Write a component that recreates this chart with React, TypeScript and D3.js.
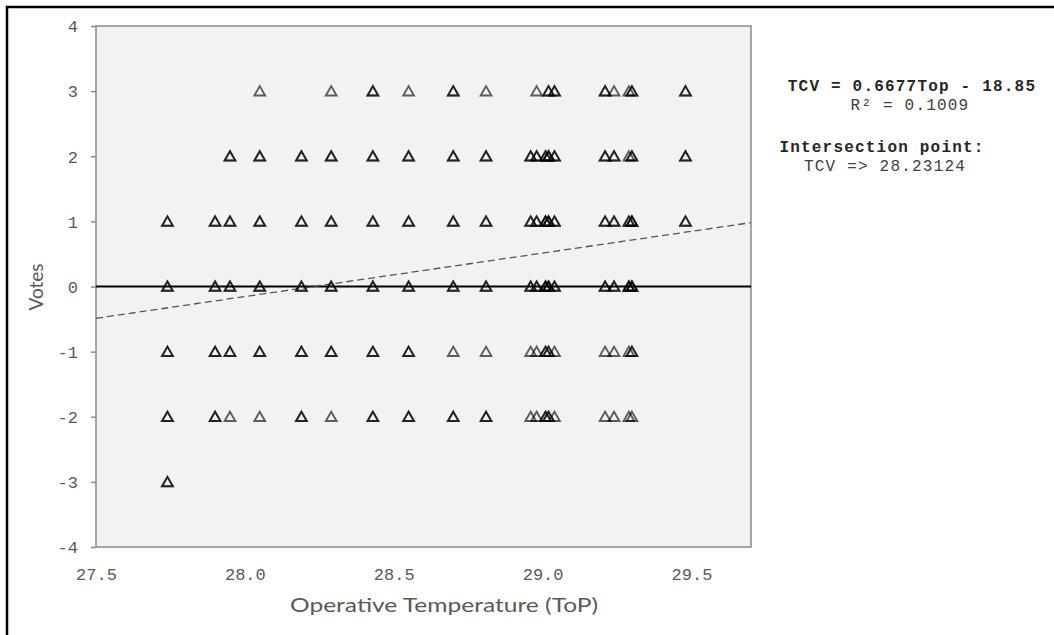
import React, { useEffect, useRef } from "react";
import * as d3 from "d3";

// Operative temperature values (x positions of the point columns)
const temps = [27.74, 27.9, 27.95, 28.05, 28.19, 28.29, 28.43, 28.55, 28.7, 28.81, 28.96, 28.98, 29.01, 29.02, 29.04, 29.21, 29.24, 29.29, 29.3, 29.48];

// number of votes observed at each temperature for each vote level
const countsVote3 = [0, 0, 0, 1, 0, 1, 2, 1, 2, 1, 0, 1, 0, 2, 2, 2, 1, 1, 2, 2];
const countsVote2 = [0, 0, 2, 2, 2, 2, 2, 2, 2, 2, 2, 2, 2, 3, 2, 2, 2, 1, 2, 2];
const countsVote1 = [2, 2, 2, 2, 2, 2, 2, 2, 2, 2, 2, 2, 3, 3, 2, 2, 2, 2, 3, 2];
const countsVote0 = [2, 2, 2, 2, 2, 2, 2, 2, 2, 2, 2, 2, 3, 3, 2, 2, 2, 3, 3, 0];
const countsVoteM1 = [2, 2, 2, 2, 2, 2, 2, 2, 1, 1, 1, 1, 2, 2, 1, 1, 1, 1, 2, 0];
const countsVoteM2 = [2, 2, 1, 1, 2, 1, 2, 2, 2, 2, 1, 1, 2, 2, 1, 1, 1, 1, 1, 0];
const countsVoteM3 = [2, 0, 0, 0, 0, 0, 0, 0, 0, 0, 0, 0, 0, 0, 0, 0, 0, 0, 0, 0];

const voteLevels = [3, 2, 1, 0, -1, -2, -3];
const voteCounts = [countsVote3, countsVote2, countsVote1, countsVote0, countsVoteM1, countsVoteM2, countsVoteM3];

const xDomain = [27.5, 29.7];
const yDomain = [-4, 4];
const xTicks = [27.5, 28.0, 28.5, 29.0, 29.5];
const yTicks = [-4, -3, -2, -1, 0, 1, 2, 3, 4];

// regression shown in the chart
const slope = 0.6677;
const intercept = -18.85;
const rSquared = "0.1009";
const intersection = "28.23124";

const W = 1054;
const H = 635;
const plot = { left: 96, right: 751, top: 26, bottom: 547 };

const x = d3.scaleLinear().domain(xDomain).range([plot.left, plot.right]);
const y = d3.scaleLinear().domain(yDomain).range([plot.bottom, plot.top]);

const MONO = "'Liberation Mono', 'DejaVu Sans Mono', monospace";
const SANS = "Lato, 'Open Sans', sans-serif";

type Obs = { t: number; v: number; k: number };
const observations: Obs[] = [];
voteLevels.forEach((v, li) => {
  voteCounts[li].forEach((c, ti) => {
    for (let k = 0; k < c; k++) observations.push({ t: temps[ti], v, k });
  });
});

const triangle = d3.symbol().type(d3.symbolTriangle).size(50)();

const trendLine = d3
  .line<number>()
  .x((t) => x(t))
  .y((t) => y(slope * t + intercept));

export default function App() {
  const gx = useRef<SVGGElement>(null);
  const gy = useRef<SVGGElement>(null);

  useEffect(() => {
    if (gx.current) {
      const ax = d3
        .axisBottom(x)
        .tickValues(xTicks)
        .tickSize(0)
        .tickFormat((d) => d3.format(".1f")(d as number));
      const sel = d3.select(gx.current);
      sel.call(ax);
      sel.select(".domain").remove();
      sel
        .selectAll("text")
        .attr("y", 33)
        .attr("dy", 0)
        .attr("fill", "#595959")
        .style("font-family", MONO)
        .style("font-size", "17px");
    }
    if (gy.current) {
      const ay = d3
        .axisLeft(y)
        .tickValues(yTicks)
        .tickSize(5)
        .tickPadding(13)
        .tickFormat((d) => {
          const n = d as number;
          return n < 0 ? "-" + Math.abs(n) : String(n);
        });
      const sel = d3.select(gy.current);
      sel.call(ay);
      sel.select(".domain").remove();
      sel.selectAll(".tick line").attr("stroke", "#8a8a8a").attr("stroke-width", 1.5);
      sel
        .selectAll("text")
        .attr("fill", "#595959")
        .attr("dy", "0.34em")
        .style("font-family", MONO)
        .style("font-size", "17px");
    }
  }, []);

  return (
    <svg
      width={W}
      height={H}
      style={{ position: "absolute", left: 0, top: 0, background: "#fff" }}
    >
      <rect x={7} y={7} width={W + 10} height={H + 10} fill="#fff" stroke="#000" strokeWidth={2.5} />
      <rect
        x={plot.left}
        y={plot.top}
        width={plot.right - plot.left}
        height={plot.bottom - plot.top}
        fill="#f2f2f2"
        stroke="#8a8a8a"
        strokeWidth={1.5}
      />
      <g ref={gy} transform={`translate(${plot.left},0)`} />
      <g ref={gx} transform={`translate(0,${plot.bottom})`} />

      <line x1={plot.left} x2={plot.right} y1={y(0)} y2={y(0)} stroke="#000" strokeWidth={2} />

      <path
        d={trendLine(xDomain) || ""}
        fill="none"
        stroke="#555"
        strokeWidth={1.3}
        strokeDasharray="7 4"
      />

      <g>
        {observations.map((o, i) => (
          <path
            key={i}
            d={triangle || ""}
            transform={`translate(${x(o.t)},${y(o.v) + 1.2})`}
            fill="none"
            stroke="#000"
            strokeOpacity={0.62}
            strokeWidth={1.9}
            strokeLinejoin="miter"
          />
        ))}
      </g>

      <text
        x={444}
        y={612}
        textAnchor="middle"
        fill="#595959"
        style={{ fontFamily: SANS, fontSize: "19px" }}
        textLength={308}
        lengthAdjust="spacingAndGlyphs"
      >
        Operative Temperature (ToP)
      </text>
      <text
        transform="translate(43,287) rotate(-90)"
        textAnchor="middle"
        fill="#595959"
        style={{ fontFamily: SANS, fontSize: "19px" }}
      >
        Votes
      </text>

      <g style={{ fontFamily: MONO, fontSize: "16px", letterSpacing: "1.2px" }} textAnchor="middle">
        <text x={912} y={91} fill="#262626" fontWeight="bold">
          {`TCV = ${slope}Top - ${Math.abs(intercept)}`}
        </text>
        <text x={910} y={110} fill="#404040">
          {`R² = ${rSquared}`}
        </text>
        <text x={882} y={152} fill="#262626" fontWeight="bold">
          Intersection point:
        </text>
        <text x={885} y={171} fill="#404040">
          {`TCV => ${intersection}`}
        </text>
      </g>
    </svg>
  );
}
